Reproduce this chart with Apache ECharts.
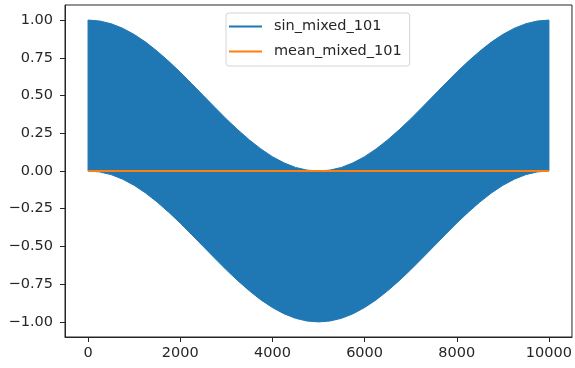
<!DOCTYPE html>
<html>
<head>
<meta charset="utf-8">
<script src="https://cdn.jsdelivr.net/npm/echarts@6/dist/echarts.min.js"></script>
<style>
  html, body { margin: 0; padding: 0; background: #ffffff; }
  #chart { width: 575px; height: 368px; }
</style>
</head>
<body>
<div id="chart"></div>
<script>
// Sample positions along the signal (index 0..10000)
const sampleX = [
  0, 250, 500, 750, 1000, 1250, 1500, 1750, 2000, 2250, 2500,
  2750, 3000, 3250, 3500, 3750, 4000, 4250, 4500, 4750, 5000,
  5250, 5500, 5750, 6000, 6250, 6500, 6750, 7000, 7250, 7500,
  7750, 8000, 8250, 8500, 8750, 9000, 9250, 9500, 9750, 10000
];
// Upper envelope of the fast oscillation in sin_mixed_101
const upperEnvelope = [
  1.000, 0.994, 0.976, 0.946, 0.905, 0.854, 0.794, 0.727, 0.655, 0.578, 0.500,
  0.422, 0.345, 0.273, 0.206, 0.146, 0.095, 0.054, 0.024, 0.006, 0.000,
  0.006, 0.024, 0.054, 0.095, 0.146, 0.206, 0.273, 0.345, 0.422, 0.500,
  0.578, 0.655, 0.727, 0.794, 0.854, 0.905, 0.946, 0.976, 0.994, 1.000
];
// Lower envelope of the same oscillation
const lowerEnvelope = [
  0.000, -0.006, -0.024, -0.054, -0.095, -0.146, -0.206, -0.273, -0.345, -0.422, -0.500,
  -0.578, -0.655, -0.727, -0.794, -0.854, -0.905, -0.946, -0.976, -0.994, -1.000,
  -0.994, -0.976, -0.946, -0.905, -0.854, -0.794, -0.727, -0.655, -0.578, -0.500,
  -0.422, -0.345, -0.273, -0.206, -0.146, -0.095, -0.054, -0.024, -0.006, 0.000
];
// Running mean of the signal
const meanX = [0, 10000];
const meanValues = [0.00, 0.00];

// Axis ticks
const xTicks = [0, 2000, 4000, 6000, 8000, 10000];
const yTicks = [-1.00, -0.75, -0.50, -0.25, 0.00, 0.25, 0.50, 0.75, 1.00];

const BLUE = '#1f77b4';
const ORANGE = '#ff7f0e';
const AXIS = '#262626';
const FONT = 'DejaVu Sans';
const FS = 14.5;

const chart = echarts.init(document.getElementById('chart'), null, { renderer: 'canvas' });

const fmtY = v => (v < 0 ? '\u2212' : '') + Math.abs(v).toFixed(2);

// The oscillation is dense enough to read as a solid band between its envelopes:
// draw it as one polygon, upper edge left-to-right then lower edge back.
function renderBand(params, api) {
  const pts = [];
  for (let i = 0; i < sampleX.length; i++) {
    pts.push(api.coord([sampleX[i], upperEnvelope[i]]));
  }
  for (let i = sampleX.length - 1; i >= 0; i--) {
    pts.push(api.coord([sampleX[i], lowerEnvelope[i]]));
  }
  return {
    type: 'polygon',
    shape: { points: pts },
    style: { fill: BLUE, stroke: BLUE, lineWidth: 1 }
  };
}

chart.setOption({
  animation: false,
  backgroundColor: '#ffffff',
  grid: {
    left: 65, right: 1, top: 5, bottom: 31,
    show: true, borderColor: AXIS, borderWidth: 1, backgroundColor: 'transparent'
  },
  legend: {
    orient: 'vertical',
    left: 226, top: 13,
    padding: [6, 8, 7, 3],
    itemGap: 10,
    itemWidth: 33, itemHeight: 2,
    backgroundColor: 'rgba(255,255,255,0.85)',
    borderColor: '#d4d4d4', borderWidth: 1, borderRadius: 3,
    textStyle: { fontFamily: FONT, fontSize: FS, color: AXIS, padding: [0, 0, 0, 7] },
    data: [
      { name: 'sin_mixed_101', icon: 'rect', itemStyle: { color: BLUE } },
      { name: 'mean_mixed_101', icon: 'rect', itemStyle: { color: ORANGE } }
    ]
  },
  xAxis: {
    type: 'value', min: -500, max: 10500,
    splitLine: { show: false },
    axisLine: { onZero: false, lineStyle: { color: AXIS, width: 1 } },
    axisTick: { show: true, length: 5, lineStyle: { color: AXIS }, customValues: xTicks },
    axisLabel: {
      customValues: xTicks, margin: 9,
      fontFamily: FONT, fontSize: FS, color: AXIS,
      formatter: v => String(v)
    }
  },
  yAxis: {
    type: 'value', min: -1.1, max: 1.1,
    splitLine: { show: false },
    axisLine: { show: true, onZero: false, lineStyle: { color: AXIS, width: 1 } },
    axisTick: { show: true, length: 5, lineStyle: { color: AXIS }, customValues: yTicks },
    axisLabel: {
      customValues: yTicks, margin: 12,
      fontFamily: FONT, fontSize: FS, color: AXIS,
      formatter: fmtY
    }
  },
  series: [
    {
      name: 'sin_mixed_101',
      type: 'custom',
      coordinateSystem: 'cartesian2d',
      data: [[sampleX[0], upperEnvelope[0]]],
      encode: { x: 0, y: 1 },
      renderItem: renderBand,
      itemStyle: { color: BLUE },
      silent: true, z: 2
    },
    {
      name: 'mean_mixed_101',
      type: 'line',
      data: meanX.map((x, i) => [x, meanValues[i]]),
      symbol: 'none',
      color: ORANGE,
      itemStyle: { color: ORANGE },
      lineStyle: { color: ORANGE, width: 2 },
      silent: true, z: 3
    }
  ]
});
</script>
</body>
</html>
